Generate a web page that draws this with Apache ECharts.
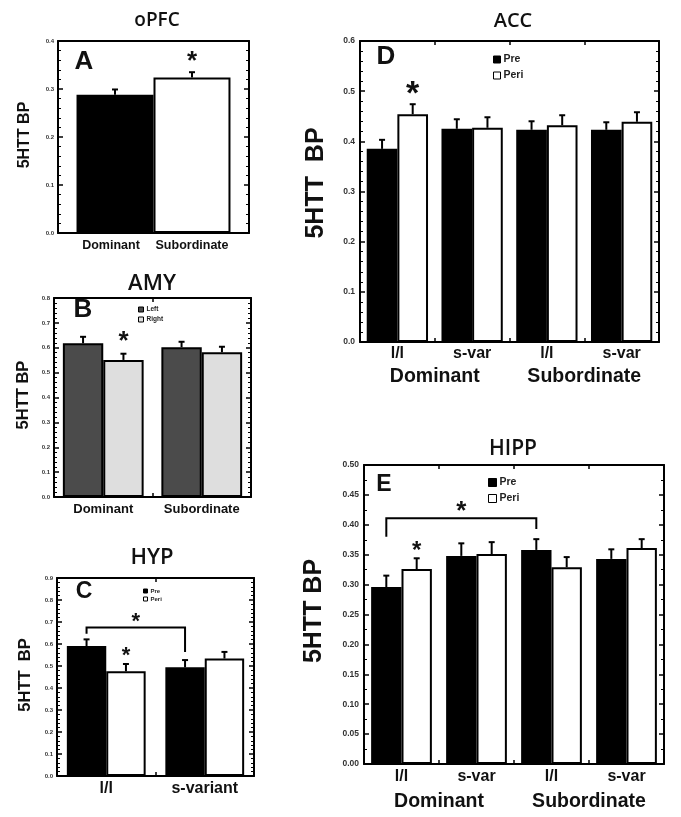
<!DOCTYPE html>
<html>
<head>
<meta charset="utf-8">
<script src="https://cdn.jsdelivr.net/npm/echarts@6/dist/echarts.min.js"></script>
<style>
  html, body { margin: 0; padding: 0; background: #fff; }
  #main { width: 681px; height: 817px; }
</style>
</head>
<body>
<div id="main"></div>
<script>
// A - oPFC
var opfcGroups = ['Dominant', 'Subordinate'];
var opfcMean = [0.288, 0.324];
var opfcErr = [0.011, 0.011];
var opfcSig = [0, 1];

// B - AMY
var amyGroups = ['Dominant', 'Subordinate'];
var amyLeft = [0.618, 0.602];
var amyLeftErr = [0.026, 0.022];
var amyRight = [0.551, 0.582];
var amyRightErr = [0.025, 0.022];
var amyRightSig = [1, 0];

// C - HYP
var hypGroups = ['l/l', 's-variant'];
var hypPre = [0.591, 0.494];
var hypPreErr = [0.030, 0.033];
var hypPeri = [0.476, 0.534];
var hypPeriErr = [0.033, 0.030];
var hypPeriSig = [1, 0];
// from group, to group, bracket top, left leg end, right leg end
var hypBracket = [0, 1, 0.675, 0.647, 0.564];

// D - ACC
var accGenotypes = ['l/l', 's-var', 'l/l', 's-var'];
var accStatus = ['Dominant', 'Subordinate'];
var accPre = [0.385, 0.425, 0.423, 0.423];
var accPreErr = [0.018, 0.019, 0.017, 0.015];
var accPeri = [0.454, 0.427, 0.432, 0.439];
var accPeriErr = [0.020, 0.021, 0.020, 0.019];
var accPeriSig = [1, 0, 0, 0];

// E - HIPP
var hippGenotypes = ['l/l', 's-var', 'l/l', 's-var'];
var hippStatus = ['Dominant', 'Subordinate'];
var hippPre = [0.296, 0.348, 0.358, 0.343];
var hippPreErr = [0.019, 0.021, 0.018, 0.016];
var hippPeri = [0.326, 0.351, 0.329, 0.361];
var hippPeriErr = [0.018, 0.020, 0.017, 0.015];
var hippPeriSig = [1, 0, 0, 0];
var hippBracket = [0, 2, 0.411, 0.380, 0.393];

var F = '"Liberation Sans", Arial, sans-serif';
var grids = [], xAxes = [], yAxes = [], series = [], legends = [], texts = [];

function axLine() { return { show: true, onZero: false, lineStyle: { color: '#000', width: 2 } }; }
function axTick(len) { return { show: true, inside: true, length: len, lineStyle: { color: '#000', width: 1.5 } }; }

function addPanel(p) {
  var gi = grids.length;
  grids.push({ left: p.box[0], top: p.box[1], width: p.box[2], height: p.box[3] });
  var xi = xAxes.length;
  xAxes.push({
    type: 'category', gridIndex: gi, position: 'bottom', data: p.cats,
    axisLine: axLine(), axisTick: axTick(4), splitLine: { show: false },
    axisLabel: { show: p.catSize > 0, interval: 0, margin: p.catMargin, fontFamily: F, fontWeight: 'bold', fontSize: p.catSize, color: '#111' }
  });
  xAxes.push({
    type: 'category', gridIndex: gi, position: 'top', data: p.cats,
    axisLine: axLine(), axisTick: axTick(4), axisLabel: { show: false }
  });
  if (p.groups) {
    xAxes.push({
      type: 'category', gridIndex: gi, position: 'bottom', data: p.groups,
      axisLine: { show: false }, axisTick: { show: false },
      axisLabel: { interval: 0, margin: p.groupMargin, fontFamily: F, fontWeight: 'bold', fontSize: p.groupSize, color: '#111' }
    });
  }
  var yi = yAxes.length;
  function base() {
    return {
      type: 'value', gridIndex: gi, min: 0, max: p.yMax, interval: p.yStep,
      splitLine: { show: false }, axisLine: axLine(), axisTick: axTick(5),
      minorTick: { show: true, splitNumber: p.minor, length: 3, lineStyle: { color: '#000', width: 1 } }
    };
  }
  yAxes.push(Object.assign(base(), {
    position: 'left',
    axisLabel: {
      margin: p.tickMargin, fontFamily: F, fontWeight: 'bold', fontSize: p.tickSize, color: '#333',
      formatter: function (v) { return v.toFixed(p.digits); }
    }
  }));
  yAxes.push(Object.assign(base(), { position: 'right', axisLabel: { show: false } }));
  return { xi: xi, yi: yi };
}

function bars(ax, name, data, color, gap, extra) {
  return Object.assign({
    type: 'bar', name: name, xAxisIndex: ax.xi, yAxisIndex: ax.yi, data: data,
    barGap: '0%', barCategoryGap: gap, silent: true, z: 2,
    itemStyle: { color: color, borderColor: '#000', borderWidth: 2 }
  }, extra || {});
}

function starText(x, y, size) {
  return {
    type: 'text', x: x, y: y,
    style: { text: '*', fontFamily: F, fontWeight: 'bold', fontSize: size, fill: '#111', align: 'center', verticalAlign: 'middle' }
  };
}

// items: [cat, slot, mean, top, sig]
function errSeries(ax, items, n, gap, o) {
  return {
    type: 'custom', xAxisIndex: ax.xi, yAxisIndex: ax.yi, silent: true, z: 5,
    data: items, encode: { x: 0, y: [2, 3] },
    renderItem: function (params, api) {
      var band = api.size([1, 0])[0];
      var bw = band * (1 - gap) / n;
      var c = api.value(0), slot = api.value(1);
      var b = api.coord([c, api.value(2)]);
      var t = api.coord([c, api.value(3)]);
      var x = b[0] + (slot - (n - 1) / 2) * bw;
      var kids = [
        { type: 'line', shape: { x1: x, y1: b[1], x2: x, y2: t[1] }, style: { stroke: '#000', lineWidth: 2 } },
        { type: 'line', shape: { x1: x - 3, y1: t[1], x2: x + 3, y2: t[1] }, style: { stroke: '#000', lineWidth: 2 } }
      ];
      if (api.value(4)) kids.push(starText(x, t[1] - o.starGap + o.starSize * 0.12, o.starSize));
      return { type: 'group', children: kids };
    }
  };
}

function bracketSeries(ax, br, n, gap, o) {
  return {
    type: 'custom', xAxisIndex: ax.xi, yAxisIndex: ax.yi, silent: true, z: 5,
    data: [br], encode: { x: [0, 1], y: [2, 3, 4] },
    renderItem: function (params, api) {
      var band = api.size([1, 0])[0];
      var off = (0 - (n - 1) / 2) * band * (1 - gap) / n;
      var a = api.coord([api.value(0), api.value(2)]);
      var b = api.coord([api.value(1), api.value(2)]);
      var la = api.coord([api.value(0), api.value(3)]);
      var lb = api.coord([api.value(1), api.value(4)]);
      var x1 = a[0] + off, x2 = b[0] + off;
      return {
        type: 'group', children: [
          { type: 'polyline', shape: { points: [[x1, la[1]], [x1, a[1]], [x2, a[1]], [x2, lb[1]]] },
            style: { stroke: '#000', lineWidth: 2, fill: null } },
          starText((x1 + x2) / 2, a[1] - o.starGap + o.starSize * 0.12, o.starSize)
        ]
      };
    }
  };
}

function toItems(means, errs, sig, slot) {
  return means.map(function (m, k) { return [k, slot, m, m + errs[k], sig ? sig[k] : 0]; });
}

function legend(left, top, names, size, icon, gap) {
  legends.push({
    left: left, top: top, orient: 'vertical', padding: 0, selectedMode: false,
    icon: 'rect', itemWidth: icon, itemHeight: icon, itemGap: gap, data: names,
    itemStyle: { borderWidth: 1 },
    textStyle: { fontFamily: F, fontWeight: 'bold', fontSize: size, color: '#222', padding: [0, 0, 0, -2] }
  });
}

function label(txt, x, y, size, weight, family, rot) {
  texts.push({
    type: 'text', x: x, y: y, rotation: rot || 0,
    style: { text: txt, fontFamily: family || F, fontWeight: weight, fontSize: size, fill: '#111', align: 'center', verticalAlign: 'middle' }
  });
}

// ---- A oPFC
var gA = 0.194;
var axA = addPanel({ box: [58, 41, 191, 192], cats: [''], yMax: 0.4, yStep: 0.1, digits: 1, minor: 5, tickSize: 6, tickMargin: 4, catSize: 0 });
var lblA = { show: true, position: 'bottom', distance: 6, formatter: '{a}', fontFamily: F, fontWeight: 'bold', fontSize: 12.5, color: '#111' };
series.push(bars(axA, opfcGroups[0], [opfcMean[0]], '#000', gA * 100 + '%', { label: Object.assign({ offset: [-4, 0] }, lblA) }));
series.push(bars(axA, opfcGroups[1], [opfcMean[1]], '#fff', gA * 100 + '%', { label: lblA }));
series.push(errSeries(axA, opfcMean.map(function (m, k) { return [0, k, m, m + opfcErr[k], opfcSig[k]]; }), 2, gA, { starSize: 26, starGap: 13 }));

// ---- B AMY
var gB = 0.18;
var axB = addPanel({ box: [54, 298, 197, 199], cats: amyGroups, yMax: 0.8, yStep: 0.1, digits: 1, minor: 5, tickSize: 6, tickMargin: 4, catSize: 13, catMargin: 6 });
series.push(bars(axB, 'Left', amyLeft, '#4b4b4b', '18%'));
series.push(bars(axB, 'Right', amyRight, '#dedede', '18%'));
series.push(errSeries(axB, toItems(amyLeft, amyLeftErr, null, 0), 2, gB, { starSize: 26, starGap: 15 }));
series.push(errSeries(axB, toItems(amyRight, amyRightErr, amyRightSig, 1), 2, gB, { starSize: 26, starGap: 15 }));
legend(138, 306, ['Left', 'Right'], 6.5, 5, 3);

// ---- C HYP
var gC = 0.2;
var axC = addPanel({ box: [57, 578, 197, 198], cats: hypGroups, yMax: 0.9, yStep: 0.1, digits: 1, minor: 5, tickSize: 6, tickMargin: 4, catSize: 16, catMargin: 5 });
series.push(bars(axC, 'Pre', hypPre, '#000', '20%'));
series.push(bars(axC, 'Peri', hypPeri, '#fff', '20%'));
series.push(errSeries(axC, toItems(hypPre, hypPreErr, null, 0), 2, gC, { starSize: 22, starGap: 11 }));
series.push(errSeries(axC, toItems(hypPeri, hypPeriErr, hypPeriSig, 1), 2, gC, { starSize: 22, starGap: 11 }));
series.push(bracketSeries(axC, hypBracket, 2, gC, { starSize: 22, starGap: 8 }));
legend(143, 588, ['Pre', 'Peri'], 6, 4, 2);

// ---- D ACC
var gD = 0.18;
var axD = addPanel({ box: [360, 41, 299, 301], cats: accGenotypes, groups: accStatus, yMax: 0.6, yStep: 0.1, digits: 1, minor: 5, tickSize: 8.5, tickMargin: 5, catSize: 16, catMargin: 4, groupSize: 19.5, groupMargin: 25 });
series.push(bars(axD, 'Pre', accPre, '#000', '18%'));
series.push(bars(axD, 'Peri', accPeri, '#fff', '18%'));
series.push(errSeries(axD, toItems(accPre, accPreErr, null, 0), 2, gD, { starSize: 34, starGap: 14 }));
series.push(errSeries(axD, toItems(accPeri, accPeriErr, accPeriSig, 1), 2, gD, { starSize: 34, starGap: 14 }));
legend(493, 54, ['Pre', 'Peri'], 10.5, 7, 5);

// ---- E HIPP
var gE = 0.19;
var axE = addPanel({ box: [364, 465, 300, 299], cats: hippGenotypes, groups: hippStatus, yMax: 0.5, yStep: 0.05, digits: 2, minor: 2, tickSize: 8.5, tickMargin: 5, catSize: 16, catMargin: 5, groupSize: 19.5, groupMargin: 28 });
series.push(bars(axE, 'Pre', hippPre, '#000', '19%'));
series.push(bars(axE, 'Peri', hippPeri, '#fff', '19%'));
series.push(errSeries(axE, toItems(hippPre, hippPreErr, null, 0), 2, gE, { starSize: 24, starGap: 10 }));
series.push(errSeries(axE, toItems(hippPeri, hippPeriErr, hippPeriSig, 1), 2, gE, { starSize: 24, starGap: 10 }));
series.push(bracketSeries(axE, hippBracket, 2, gE, { starSize: 26, starGap: 10 }));
legend(488, 477, ['Pre', 'Peri'], 10.5, 8, 5);

// titles, panel letters, axis names
var TF = '"Open Sans", "Noto Sans", sans-serif';
label('oPFC', 157, 21, 19, 600, TF);
label('AMY', 152, 284, 22, 600, TF);
label('HYP', 152, 558, 22, 600, TF);
label('ACC', 513, 21, 20, 600, TF);
label('HIPP', 513, 449, 21, 600, TF);

label('A', 84, 62, 26, 'bold');
label('B', 83, 310, 26, 'bold');
label('C', 84, 592, 23, 'bold');
label('D', 386, 57, 26, 'bold');
label('E', 384, 485, 23, 'bold');

label('5HTT BP', 25, 135, 16, 'bold', F, Math.PI / 2);
label('5HTT BP', 23, 395, 16.5, 'bold', F, Math.PI / 2);
label('5HTT  BP', 25, 675, 16.5, 'bold', F, Math.PI / 2);
label('5HTT  BP', 316, 183, 25, 'bold', F, Math.PI / 2);
label('5HTT BP', 314, 611, 25, 'bold', F, Math.PI / 2);

var chart = echarts.init(document.getElementById('main'));
chart.setOption({
  animation: false,
  backgroundColor: '#fff',
  grid: grids,
  xAxis: xAxes,
  yAxis: yAxes,
  legend: legends,
  series: series,
  graphic: texts
});
</script>
</body>
</html>
